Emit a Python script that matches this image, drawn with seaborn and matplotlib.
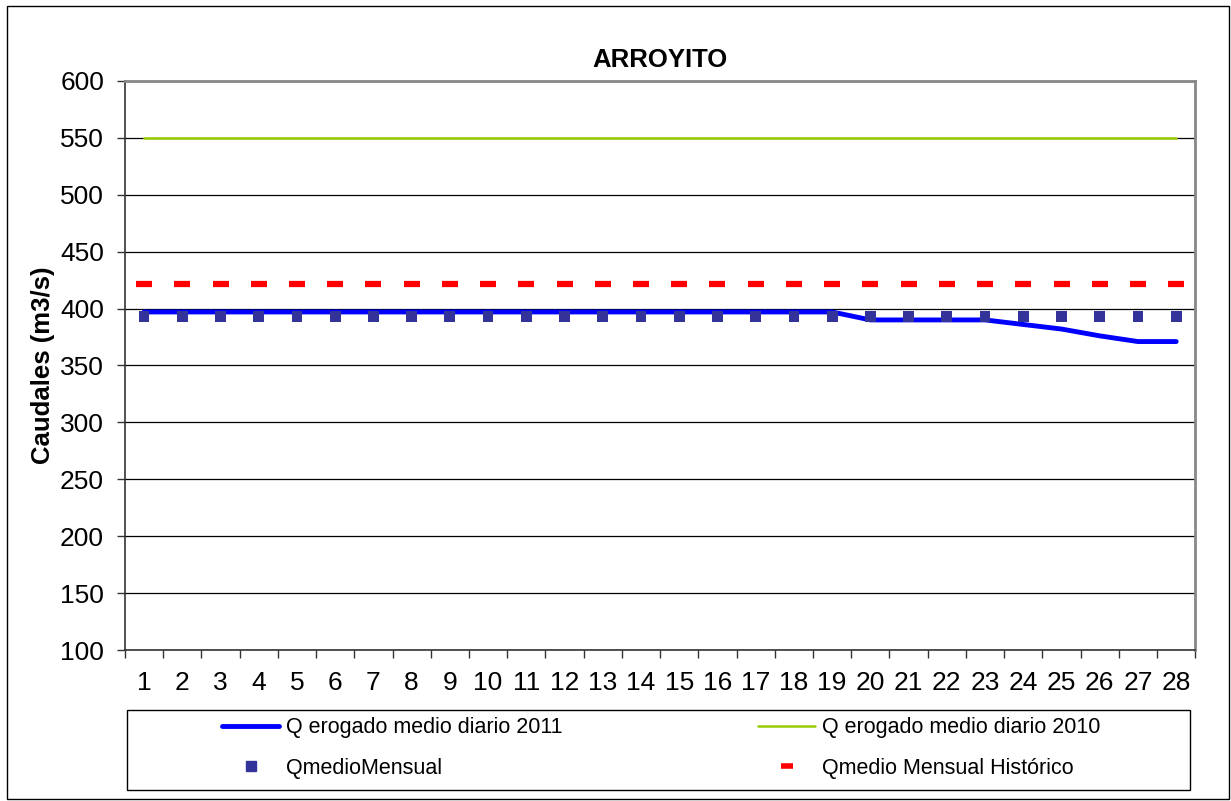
import matplotlib
matplotlib.use("Agg")
import matplotlib.pyplot as plt
from matplotlib.lines import Line2D
from matplotlib.patches import Rectangle
from matplotlib.ticker import FixedLocator, NullFormatter
import pandas as pd
import seaborn as sns

# Data
days = list(range(1, 29))
q_2011 = [397] * 19 + [390, 390, 390, 390, 386, 382, 376, 371, 371]
q_2010 = [550] * 28
q_mensual = [393] * 28
q_historico = [422] * 28

df = pd.DataFrame({'dia': days, 'q2011': q_2011, 'q2010': q_2010,
                   'qmes': q_mensual, 'qhist': q_historico})

sns.set_style('white')
plt.rcParams['font.family'] = ['Liberation Sans', 'DejaVu Sans']
plt.rcParams['text.color'] = 'black'
plt.rcParams['axes.labelcolor'] = 'black'
plt.rcParams['xtick.labelcolor'] = 'black'
plt.rcParams['ytick.labelcolor'] = 'black'

fig = plt.figure(figsize=(12.31, 8.01), dpi=100)
ax = fig.add_axes([0.1015, 0.1885, 0.8695, 0.7105])

# horizontal grid
for v in range(100, 601, 50):
  ax.axhline(v, color='black', lw=0.9, zorder=0)

sns.lineplot(data=df, x='dia', y='q2010', ax=ax, color='#99CC00', lw=1.8, zorder=2)
sns.lineplot(data=df, x='dia', y='q2011', ax=ax, color='#0000FF', lw=3.5, zorder=3)
sns.scatterplot(data=df, x='dia', y='qmes', ax=ax, color='#333399', marker='s',
                s=60, edgecolor='none', zorder=4)
ax.plot(df['dia'], df['qhist'], ls='none', marker='_', color='#FF0000',
        markersize=11, markeredgewidth=4.5, zorder=4)

ax.set_xlim(0.5, 28.5)
ax.set_ylim(100, 600)
ax.set_yticks(range(100, 601, 50))
ax.set_xticks(days)
ax.tick_params(axis='x', which='major', length=0, labelsize=19, pad=15)
ax.xaxis.set_minor_locator(FixedLocator([d + 0.5 for d in range(0, 29)]))
ax.xaxis.set_minor_formatter(NullFormatter())
ax.tick_params(axis='x', which='minor', length=6, width=1, direction='out',
               color='#333333', bottom=True)
ax.tick_params(axis='y', length=6, width=1, direction='out', color='#333333',
               labelsize=19, left=True, pad=9)

for s in ['top', 'right']:
  ax.spines[s].set_color('#888888')
  ax.spines[s].set_linewidth(2)
ax.spines['left'].set_color('#333333')
ax.spines['bottom'].set_color('#333333')
ax.spines['left'].set_linewidth(1.2)
ax.spines['bottom'].set_linewidth(1.2)

ax.set_xlabel('')
ax.set_ylabel('Caudales (m3/s)', fontsize=18.5, fontweight='bold', labelpad=4)
ax.set_title('ARROYITO', fontsize=18.5, fontweight='bold', pad=10)

# legend: one frame, two columns pinned where the reference has them
fig.patches.append(Rectangle((127 / 1231, 1 - 790 / 801), 1063 / 1231, 80 / 801,
                             transform=fig.transFigure, fill=False,
                             edgecolor='black', lw=1))
leg_kw = dict(loc='center left', fontsize=15.5, frameon=False,
              handlelength=2.65, handletextpad=0.3, labelspacing=0.9,
              borderpad=0, borderaxespad=0)
col1 = [Line2D([], [], color='#0000FF', lw=3.5),
        Line2D([], [], ls='none', marker='s', color='#333399', markersize=7)]
col2 = [Line2D([], [], color='#99CC00', lw=1.8),
        Line2D([], [], ls='none', marker='_', color='#FF0000', markersize=8,
               markeredgewidth=4)]
fig.legend(col1, ['Q erogado medio diario 2011', 'QmedioMensual'],
           bbox_to_anchor=(222 / 1231, 1 - 748 / 801), **leg_kw)
fig.legend(col2, ['Q erogado medio diario 2010', 'Qmedio Mensual Histórico'],
           bbox_to_anchor=(758 / 1231, 1 - 748 / 801), **leg_kw)

# outer border
fig.patches.append(Rectangle((0.006, 0.002), 0.992, 0.99, transform=fig.transFigure,
                             fill=False, edgecolor='black', lw=1))

fig.savefig('out.png', dpi=100)
